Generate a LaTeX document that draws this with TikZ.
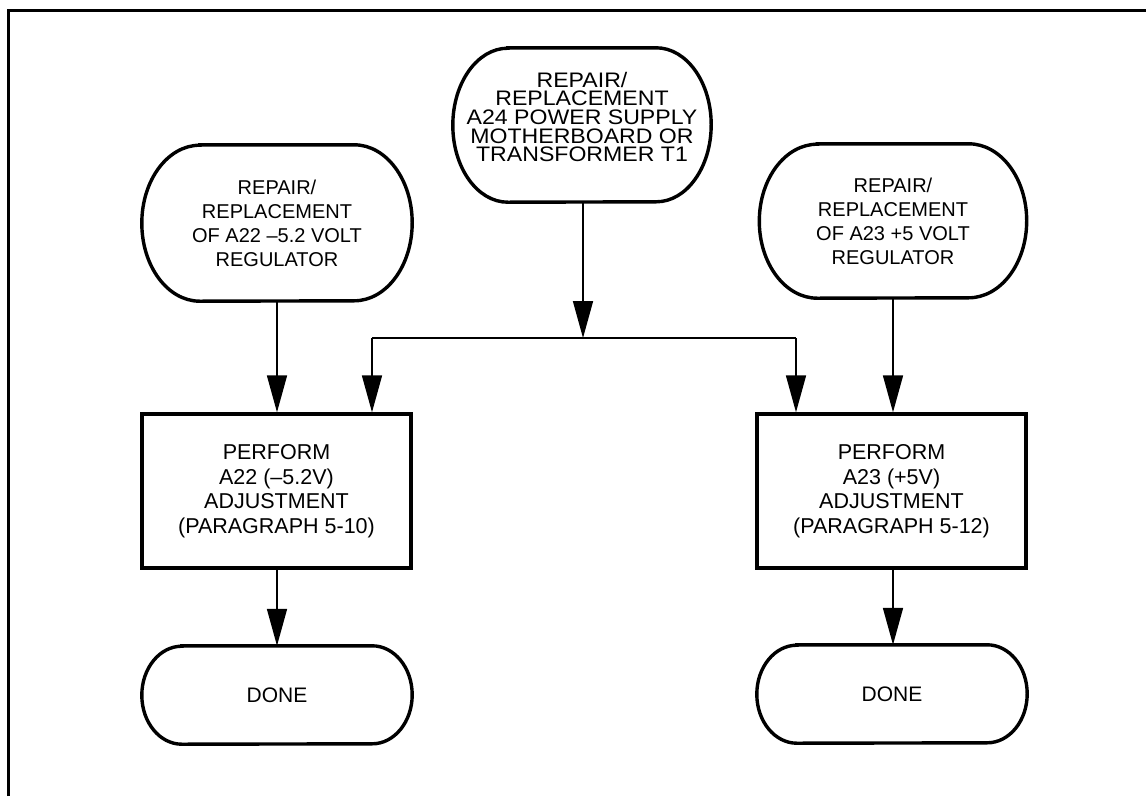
\documentclass[tikz,border=0pt]{standalone}
\usepackage{fontspec}
\setmainfont{Liberation Sans}
\newfontfamily\widefont{Liberation Sans}[FakeStretch=1.1]
\usetikzlibrary{arrows.meta,calc}
\newcommand{\stadiumline}[3]{%
  \draw[shapeline] ([xshift=#2pt]#1.north west) -- ([xshift=-#2pt]#1.north east)
    arc[start angle=90,end angle=-90,x radius=#2pt,y radius=#3pt]
    -- ([xshift=#2pt]#1.south west)
    arc[start angle=270,end angle=90,x radius=#2pt,y radius=#3pt] -- cycle;}
\begin{document}
\begin{tikzpicture}[x=1pt,y=-1pt,
  shapeline/.style={line width=3.4pt},
  ovalnode/.style={inner sep=0pt, align=center},
  sidetext/.style={font=\fontsize{20pt}{24pt}\selectfont},
  toptext/.style={font=\widefont\fontsize{21pt}{18.6pt}\selectfont, align=center, inner sep=0pt},
  boxnode/.style={draw, line width=3.4pt, minimum width=269pt, minimum height=154pt,
    inner sep=0pt, align=center, font=\fontsize{21.5pt}{24.5pt}\selectfont},
  donetext/.style={font=\fontsize{21pt}{24pt}\selectfont},
  conn/.style={line width=1.7pt},
  arr/.style={conn, -{Triangle[length=37pt,width=20pt]}},
]
\useasboundingbox (0,0) rectangle (1146,796);
\fill[white] (0,0) rectangle (1146,796);
\draw[line width=3pt] (8,796) -- (8,10) -- (1146,10);

% top ovals
\node[ovalnode, minimum width=258pt, minimum height=154pt,
  label={[toptext, yshift=8pt]center:REPAIR/\\REPLACEMENT\\A24 POWER SUPPLY\\MOTHERBOARD OR\\TRANSFORMER T1}]
  (top) at (582,125) {};
\stadiumline{top}{55}{77}
\node[ovalnode, sidetext, minimum width=270pt, minimum height=156pt] (lo) at (277,223)
  {REPAIR/\\REPLACEMENT\\OF A22 –5.2 VOLT\\REGULATOR};
\stadiumline{lo}{58}{78}
\node[ovalnode, sidetext, minimum width=267pt, minimum height=154pt] (ro) at (893,221)
  {REPAIR/\\REPLACEMENT\\OF A23 +5 VOLT\\REGULATOR};
\stadiumline{ro}{58}{77}

% boxes
\node[boxnode] (lbox) at (276.5,491) {PERFORM\\A22 (–5.2V)\\ADJUSTMENT\\(PARAGRAPH 5-10)};
\node[boxnode] (rbox) at (891.5,491) {PERFORM\\A23 (+5V)\\ADJUSTMENT\\(PARAGRAPH 5-12)};

% done ovals
\node[ovalnode, donetext, minimum width=270pt, minimum height=98pt] (ld) at (277,695) {DONE};
\stadiumline{ld}{40}{49}
\node[ovalnode, donetext, minimum width=270pt, minimum height=98pt] (rd) at (892,694) {DONE};
\stadiumline{rd}{40}{49}

% connectors
\coordinate (j) at (583,338);
\coordinate (jl) at (372,338);
\coordinate (jr) at (796,338);
\draw[arr] ([xshift=1pt]top.south) -- (j);
\draw[conn] (jl) -- (jr);
\draw[arr] (jl) -- (jl |- lbox.north);
\draw[arr] (jr) -- (jr |- rbox.north);
\draw[arr] (lo.south) -- (lo.south |- lbox.north);
\draw[arr] (ro.south) -- (ro.south |- rbox.north);
\draw[arr] (lo.south |- lbox.south) -- (lo.south |- ld.north);
\draw[arr] (ro.south |- rbox.south) -- (ro.south |- rd.north);
\end{tikzpicture}
\end{document}
